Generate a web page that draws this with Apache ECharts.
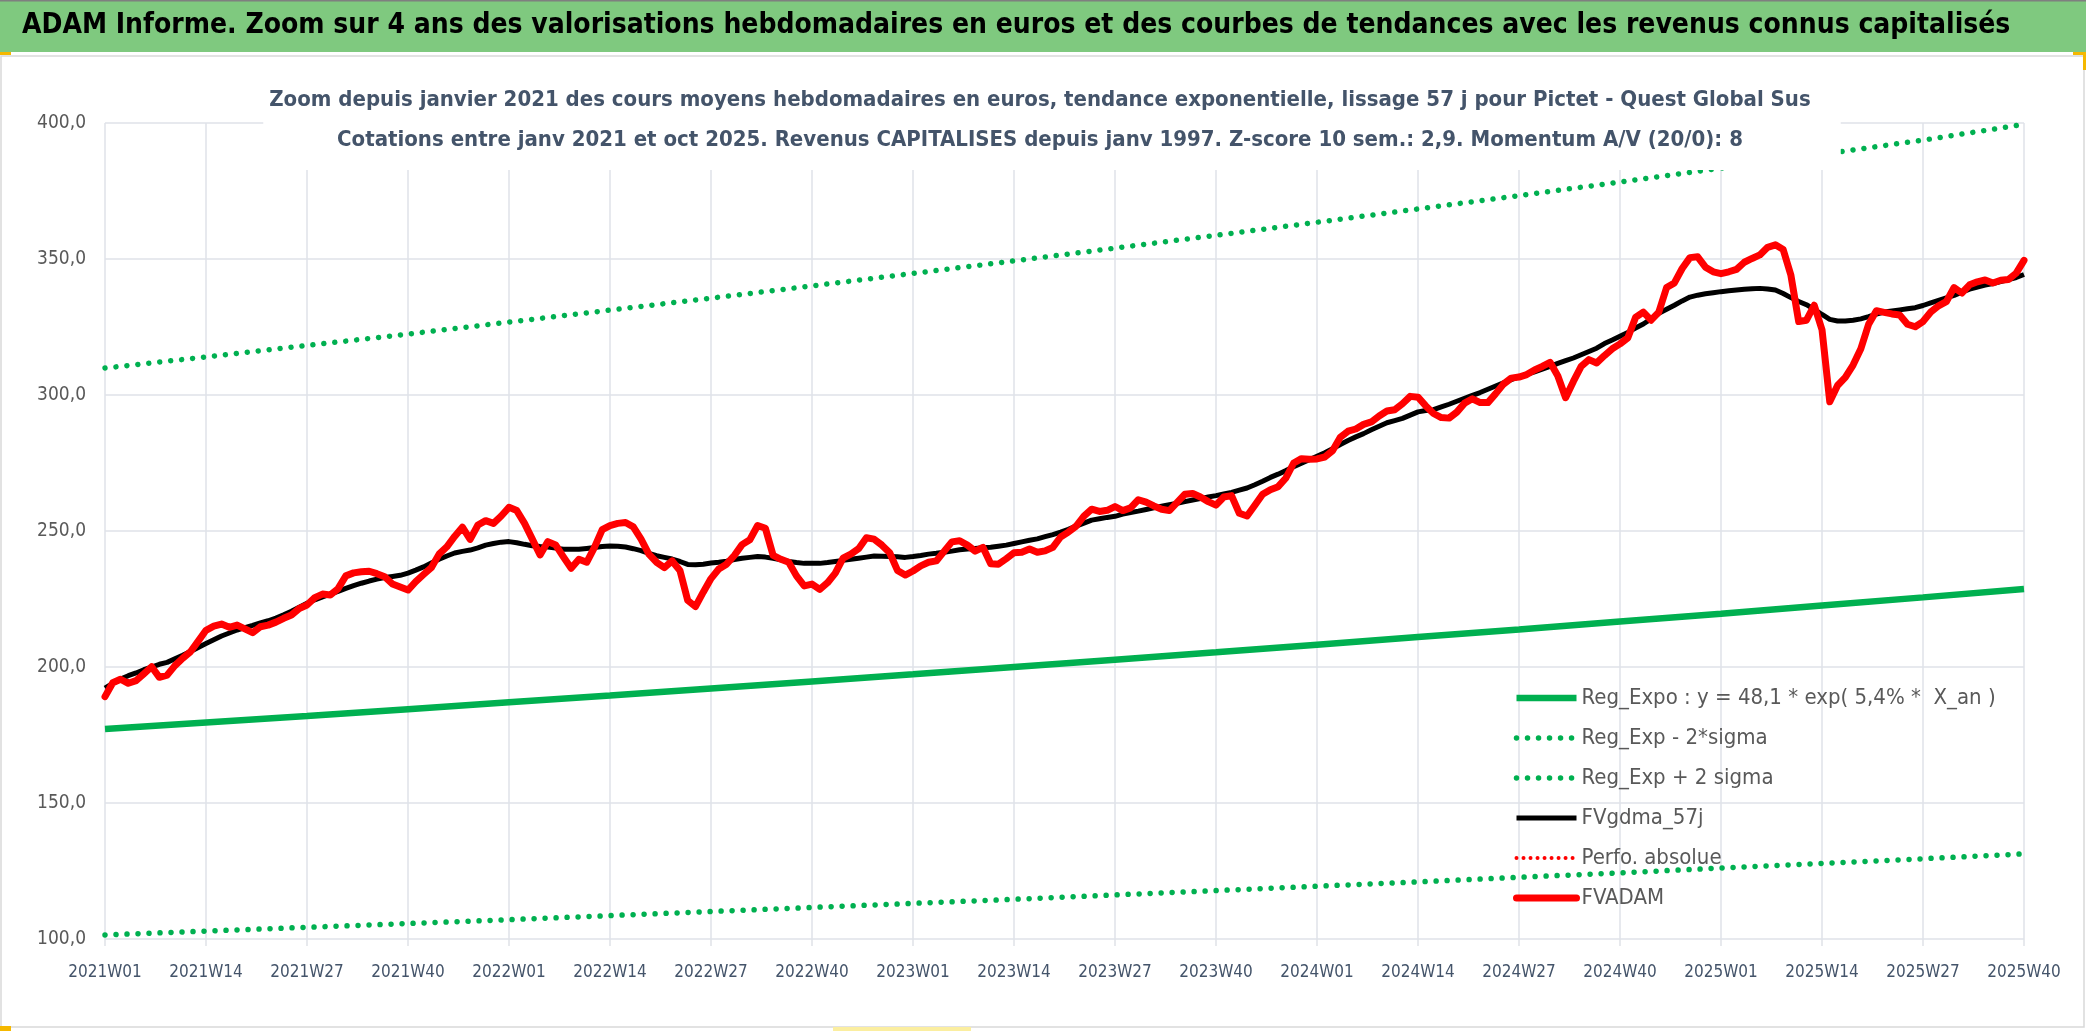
<!DOCTYPE html>
<html>
<head>
<meta charset="utf-8">
<title>ADAM Informe - Pictet Quest Global Sus</title>
<script src="https://cdn.jsdelivr.net/npm/echarts@6/dist/echarts.min.js"></script>
<style>
  html, body { margin: 0; padding: 0; background: #fff; overflow: hidden; }
  #chart { width: 2086px; height: 1031px; }
</style>
</head>
<body>
<div id="chart"></div>
<script>
// semaines : 2021W01 .. 2025W40
var years = [2021, 2022, 2023, 2024, 2025];
var weeksPerYear = [52, 52, 52, 52, 40];

// FVADAM : cours moyens hebdomadaires
var fvadam = [
  189.1, 194.2, 195.5, 194.0, 195.0, 197.5, 200.1, 196.2, 197.0, 200.5,
  203.2, 205.6, 209.5, 213.5, 215.0, 215.8, 214.6, 215.4, 214.0, 212.6,
  214.8, 215.4, 216.5, 217.9, 219.1, 221.5, 222.8, 225.5, 226.8, 226.5,
  228.8, 233.5, 234.6, 235.0, 235.2, 234.3, 233.2, 230.5, 229.4, 228.3,
  231.4, 234.0, 236.5, 241.5, 244.2, 248.0, 251.4, 246.9, 252.2, 253.8,
  252.8, 255.5, 258.7, 257.5, 252.8, 247.0, 241.2, 246.1, 244.9, 240.5,
  236.3, 239.6, 238.5, 244.0, 250.5, 252.0, 252.8, 253.1, 251.5, 247.0,
  241.5, 238.5, 236.5, 239.0, 235.5, 224.5, 222.2, 227.5, 232.5, 236.0,
  237.8, 241.0, 245.0, 246.8, 252.0, 251.0, 241.0, 239.6, 238.5, 233.5,
  229.8, 230.5, 228.5, 231.0, 234.5, 240.0, 241.5, 243.5, 247.5, 247.0,
  244.8, 242.0, 235.5, 233.8, 235.3, 237.2, 238.5, 239.0, 242.5, 246.0,
  246.4, 244.8, 242.6, 244.0, 238.0, 237.8, 239.8, 242.0, 242.2, 243.4,
  242.2, 242.7, 244.0, 247.8, 249.6, 251.8, 255.5, 258.0, 257.2, 257.6,
  259.0, 257.5, 258.5, 261.5, 260.6, 259.2, 258.0, 257.5, 260.5, 263.5,
  263.8, 262.5, 260.8, 259.5, 262.5, 263.0, 256.5, 255.5, 259.5, 263.5,
  265.2, 266.3, 269.5, 275.0, 276.6, 276.4, 276.5, 277.2, 279.5, 284.5,
  286.7, 287.5, 289.2, 290.1, 292.3, 294.1, 294.6, 296.8, 299.5, 299.2,
  296.0, 293.2, 291.7, 291.5, 293.7, 297.0, 298.6, 297.2, 297.2, 300.5,
  304.0, 306.2, 306.6, 307.5, 309.2, 310.5, 312.0, 307.0, 299.0, 305.0,
  310.5, 313.0, 311.8, 314.5, 317.0, 318.8, 321.0, 328.5, 330.5, 327.5,
  330.5, 339.5, 341.2, 346.5, 350.5, 350.8, 347.0, 345.3, 344.6, 345.3,
  346.2, 348.8, 350.2, 351.5, 354.3, 355.2, 353.5, 344.0, 327.0, 327.5,
  333.0, 324.0, 297.5, 303.5, 306.5, 311.0, 317.0, 326.0, 331.0, 330.4,
  329.8, 329.4, 326.0, 325.1, 327.0, 330.5, 332.8, 334.3, 339.5, 337.5,
  340.5, 341.6, 342.3, 341.2, 342.2, 342.5, 344.8, 349.5
];

// FVgdma_57j : moyenne lissee
var fvgdma = [
  192.2, 194.0, 195.6, 196.8, 197.8, 199.0, 200.0, 201.0, 201.7, 203.0,
  204.3, 205.7, 207.2, 208.6, 210.0, 211.4, 212.5, 213.6, 214.5, 215.3,
  216.2, 217.0, 218.0, 219.2, 220.5, 222.0, 223.4, 224.7, 225.8, 226.8,
  227.8, 228.9, 229.9, 230.8, 231.6, 232.3, 232.9, 233.3, 233.7, 234.5,
  235.6, 236.8, 238.2, 239.6, 240.8, 241.9, 242.5, 243.0, 243.8, 244.8,
  245.4, 245.9, 246.1, 245.7, 245.1, 244.6, 244.3, 244.1, 243.7, 243.3,
  243.3, 243.3, 243.6, 243.9, 244.3, 244.5, 244.4, 244.1, 243.5, 242.8,
  241.8, 240.9, 240.3, 239.7, 238.8, 237.7, 237.6, 237.8, 238.2, 238.5,
  238.9, 239.5, 240.0, 240.3, 240.6, 240.4, 240.0, 239.4, 238.8, 238.4,
  238.1, 238.1, 238.1, 238.4, 238.8, 239.2, 239.6, 240.0, 240.4, 240.8,
  240.7, 240.6, 240.5, 240.3, 240.6, 241.0, 241.5, 241.8, 242.2, 242.6,
  243.1, 243.4, 243.6, 243.8, 244.0, 244.4, 244.8, 245.4, 246.0, 246.6,
  247.1, 247.9, 248.7, 249.6, 250.6, 251.8, 252.9, 254.0, 254.5, 255.0,
  255.4, 256.2, 256.8, 257.3, 257.9, 258.5, 259.1, 259.7, 260.2, 260.8,
  261.4, 261.9, 262.5, 263.0, 263.6, 264.2, 265.0, 265.8, 267.0, 268.3,
  269.7, 270.9, 272.2, 273.6, 274.9, 276.2, 277.5, 278.8, 280.2, 281.8,
  283.3, 284.6, 285.8, 287.2, 288.5, 289.8, 290.6, 291.4, 292.6, 293.8,
  294.3, 294.6, 295.6, 296.6, 297.7, 298.8, 299.9, 300.9, 302.1, 303.3,
  304.5, 305.6, 306.7, 307.6, 308.5, 309.5, 310.5, 311.6, 312.6, 313.6,
  314.8, 316.0, 317.2, 318.9, 320.2, 321.6, 323.0, 324.6, 326.1, 328.0,
  330.0, 331.5, 333.0, 334.6, 336.0, 336.7, 337.2, 337.6, 338.0, 338.3,
  338.6, 338.9, 339.1, 339.2, 339.0, 338.6, 337.3, 335.8, 334.4, 333.2,
  331.5, 329.6, 327.8, 327.2, 327.2, 327.5, 328.0, 328.8, 329.7, 330.5,
  330.9, 331.3, 331.7, 332.1, 332.9, 333.9, 334.8, 335.7, 336.6, 337.8,
  338.9, 339.7, 340.4, 341.0, 341.7, 342.4, 343.2, 344.3
];

// courbes de tendance, lues a chaque graduation (toutes les 13 semaines)
var trendIdx = [0, 13, 26, 39, 52, 65, 78, 91, 104, 117, 130, 143, 156, 169, 182, 195, 208, 221, 234, 247];
var regExpo = [177.2, 179.6, 182.0, 184.5, 187.0, 189.5, 192.1, 194.7, 197.3, 200.0,
               202.7, 205.4, 208.2, 211.0, 213.8, 216.7, 219.6, 222.6, 225.6, 228.7];
var regMinus = [101.5, 102.9, 104.3, 105.7, 107.1, 108.6, 110.1, 111.6, 113.1, 114.6,
                116.2, 117.8, 119.4, 121.0, 122.7, 124.3, 126.1, 127.8, 129.5, 131.3];
var regPlus = [309.9, 314.0, 318.2, 322.4, 326.8, 331.2, 335.6, 340.1, 344.7, 349.3,
               354.0, 358.7, 363.5, 368.4, 373.3, 378.3, 383.4, 388.5, 393.7, 399.5];
var perfoAbsolue = [];

var weeks = [];
for (var y = 0; y < years.length; y++) {
  for (var w = 1; w <= weeksPerYear[y]; w++) {
    weeks.push(years[y] + "W" + (w < 10 ? "0" + w : w));
  }
}

function pairs(idx, vals) {
  var res = [];
  for (var i = 0; i < idx.length; i++) res.push([idx[i], vals[i]]);
  return res;
}

var FONT = "'DejaVu Sans Condensed', 'DejaVu Sans', sans-serif";
var GREEN = "#00b050";
var GRID = "#dfe2e8";
var HANDLE = "#f5b800";
var dots = { width: 5.5, type: [0.01, 11], cap: "round" };

var myChart = echarts.init(document.getElementById("chart"));
myChart.setOption({
  animation: false,
  backgroundColor: "#fff",
  textStyle: { fontFamily: FONT },
  graphic: [
    {
      type: "rect", z: -10,
      shape: { x: 0, y: 0, width: 2086, height: 52 },
      style: { fill: "#7fc97f" }
    },
    {
      type: "rect", z: -10,
      shape: { x: 0, y: 0, width: 2086, height: 1.5 },
      style: { fill: "#7f7f7f" }
    },
    {
      type: "rect", z: -10,
      shape: { x: 1, y: 56, width: 2083, height: 971 },
      style: { fill: "none", stroke: "#d9d9d9", lineWidth: 1.5 }
    },
    // poignees de selection
    { type: "rect", z: 10, shape: { x: 0, y: 52, width: 11, height: 3 }, style: { fill: HANDLE } },
    { type: "rect", z: 10, shape: { x: 2073, y: 52, width: 13, height: 3 }, style: { fill: HANDLE } },
    { type: "rect", z: 10, shape: { x: 2083, y: 52, width: 3, height: 18 }, style: { fill: HANDLE } },
    { type: "rect", z: 10, shape: { x: 0, y: 1026, width: 11, height: 5 }, style: { fill: HANDLE } },
    { type: "rect", z: 10, shape: { x: 833, y: 1027, width: 138, height: 4 }, style: { fill: "#fbeea0" } }
  ],
  title: [
    {
      text: "ADAM Informe. Zoom sur 4 ans des valorisations hebdomadaires en euros et des courbes de tendances avec les revenus connus capitalisés",
      left: 22, top: 12, padding: 0,
      textStyle: { fontFamily: FONT, fontSize: 28, fontWeight: "bold", color: "#000" }
    },
    {
      text: "Zoom depuis janvier 2021 des cours moyens hebdomadaires en euros, tendance exponentielle, lissage 57 j pour Pictet - Quest Global Sus\nCotations entre janv 2021 et oct 2025. Revenus CAPITALISES depuis janv 1997. Z-score 10 sem.: 2,9. Momentum A/V (20/0): 8",
      left: 1034, top: 72,
      textAlign: "center",
      padding: [8, 30, 10, 6],
      backgroundColor: "#fff",
      textStyle: { fontFamily: FONT, fontSize: 22, fontWeight: "bold", color: "#44546a", lineHeight: 40 }
    }
  ],
  legend: {
    orient: "vertical",
    left: 1508, top: 680,
    itemWidth: 60, itemHeight: 14, itemGap: 14,
    lineStyle: { width: "inherit" },
    itemStyle: { opacity: 0, color: "rgba(0,0,0,0)", borderWidth: 0 },
    textStyle: { fontFamily: FONT, fontSize: 22, color: "#595959", lineHeight: 26 },
    data: ["Reg_Expo : y = 48,1 * exp( 5,4% *  X_an )", "Reg_Exp - 2*sigma", "Reg_Exp + 2 sigma",
           "FVgdma_57j", "Perfo. absolue", "FVADAM"]
  },
  grid: { left: 105, right: 62, top: 123, bottom: 92 },
  xAxis: {
    type: "category",
    data: weeks,
    boundaryGap: false,
    axisLine: { show: false },
    axisTick: { show: true, interval: 12, length: 7, lineStyle: { color: GRID, width: 1.5 } },
    axisLabel: { interval: 12, margin: 25, fontSize: 17, color: "#44546a", fontFamily: FONT },
    splitLine: { show: true, interval: 12, lineStyle: { color: GRID, width: 1.5 } }
  },
  yAxis: {
    type: "value",
    min: 100, max: 400, interval: 50,
    axisLine: { show: false },
    axisTick: { show: false },
    axisLabel: {
      margin: 19, fontSize: 19, color: "#595959", fontFamily: FONT,
      formatter: function (v) { return v.toFixed(1).replace(".", ","); }
    },
    splitLine: { lineStyle: { color: GRID, width: 1.5 } }
  },
  series: [
    {
      name: "Reg_Expo : y = 48,1 * exp( 5,4% *  X_an )",
      type: "line", symbol: "none", data: pairs(trendIdx, regExpo),
      lineStyle: { color: GREEN, width: 6.5 }, itemStyle: { color: GREEN }, z: 2
    },
    {
      name: "Reg_Exp - 2*sigma",
      type: "line", symbol: "none", data: pairs(trendIdx, regMinus),
      lineStyle: Object.assign({ color: GREEN }, dots), itemStyle: { color: GREEN }, z: 2
    },
    {
      name: "Reg_Exp + 2 sigma",
      type: "line", symbol: "none", data: pairs(trendIdx, regPlus),
      lineStyle: Object.assign({ color: GREEN }, dots), itemStyle: { color: GREEN }, z: 2
    },
    {
      name: "FVgdma_57j",
      type: "line", symbol: "none", data: fvgdma,
      lineStyle: { color: "#000", width: 5, join: "round" }, itemStyle: { color: "#000" }, z: 3
    },
    {
      name: "Perfo. absolue",
      type: "line", symbol: "none", data: perfoAbsolue,
      lineStyle: { color: "#ff0000", width: 4, type: [0.01, 7], cap: "round" }, itemStyle: { color: "#ff0000" }, z: 3
    },
    {
      name: "FVADAM",
      type: "line", symbol: "none", data: fvadam,
      lineStyle: { color: "#ff0000", width: 7, join: "round", cap: "round" }, itemStyle: { color: "#ff0000" }, z: 4
    }
  ]
});
window.addEventListener("resize", function () {
  myChart.resize();
});
</script>
</body>
</html>
